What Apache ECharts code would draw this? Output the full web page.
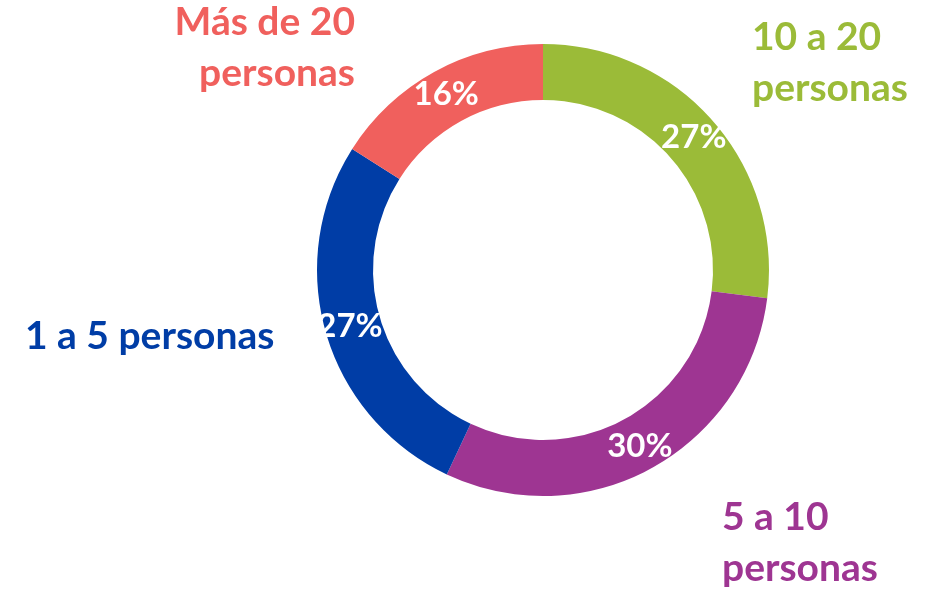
<!DOCTYPE html>
<html>
<head>
<meta charset="utf-8">
<script src="https://cdn.jsdelivr.net/npm/echarts@6/dist/echarts.min.js"></script>
<style>
  html, body { margin: 0; padding: 0; background: #fff; }
  #chart { width: 930px; height: 589px; }
</style>
</head>
<body>
<div id="chart"></div>
<script>
// datos (orden horario desde arriba)
var categories = ['10 a 20\npersonas', '5 a 10\npersonas', '1 a 5 personas', 'Más de 20\npersonas'];
var values = [27, 30, 27, 16];
var colors = ['#9BBB38', '#9E3592', '#003DA6', '#F0605D'];

// posicion de las etiquetas de categoria (como en el original)
var labelPos = [
  { x: 752, y: 63, align: 'left' },
  { x: 722, y: 543, align: 'left' },
  { x: 25, y: 336, align: 'left' },
  { x: 355, y: 48, align: 'right' }
];

var font = 'Lato';

var chart = echarts.init(document.getElementById('chart'));

var ringData = categories.map(function (name, i) {
  return { name: name, value: values[i], itemStyle: { color: colors[i] } };
});
var nameData = categories.map(function (name, i) {
  return { name: name, value: values[i], label: { color: colors[i] } };
});

chart.setOption({
  animation: false,
  series: [
    {
      type: 'pie',
      center: [543, 270],
      radius: [170, 226],
      startAngle: 90,
      clockwise: true,
      silent: true,
      data: ringData,
      label: {
        show: true,
        position: 'inside',
        formatter: '{c}%',
        color: '#fff',
        fontFamily: font,
        fontWeight: 'bold',
        fontSize: 33
      },
      labelLine: { show: false }
    },
    {
      type: 'pie',
      center: [543, 270],
      radius: [170, 226],
      startAngle: 90,
      clockwise: true,
      silent: true,
      z: 1,
      itemStyle: { color: 'transparent' },
      data: nameData,
      label: {
        show: true,
        position: 'outside',
        formatter: '{b}',
        fontFamily: font,
        fontWeight: 'bold',
        fontSize: 39,
        lineHeight: 51
      },
      labelLine: { show: false },
      labelLayout: function (params) {
        var p = labelPos[params.dataIndex];
        return { x: p.x, y: p.y, align: p.align, verticalAlign: 'middle', hideOverlap: false, moveOverlap: null };
      }
    }
  ]
});
</script>
</body>
</html>
